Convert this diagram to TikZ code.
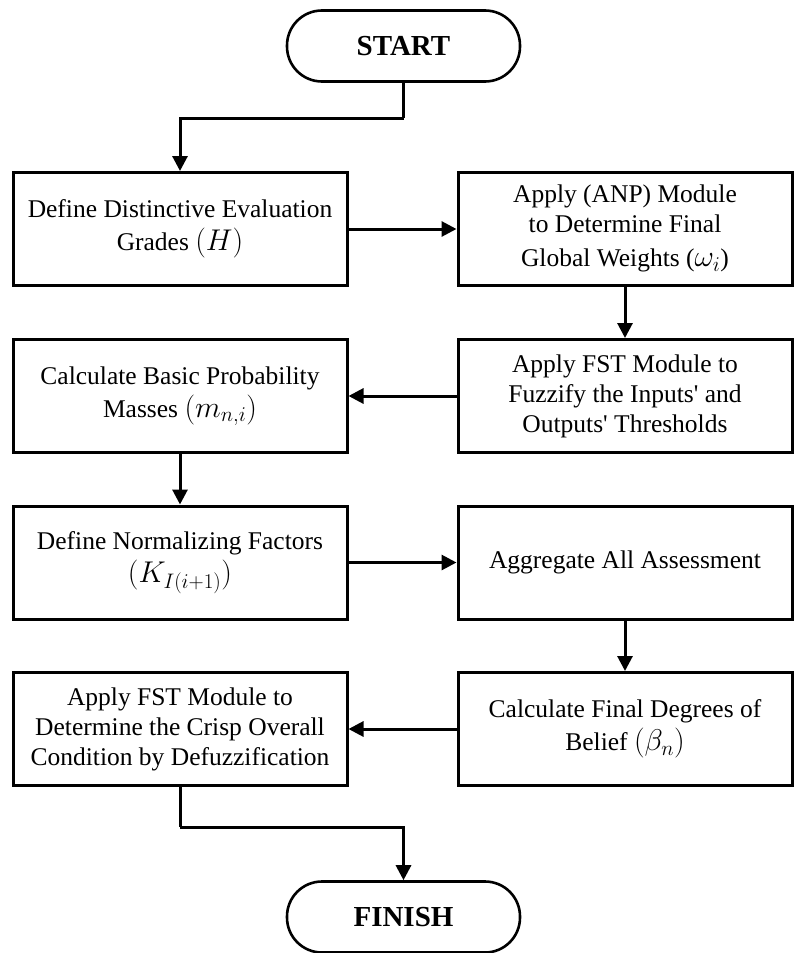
\RequirePackage{fix-cm}
\documentclass[tikz,border=0pt]{standalone}
\usepackage{fontspec}
\setmainfont{Liberation Serif}
\usetikzlibrary{arrows.meta}
% formulas set larger than the surrounding text
\newcommand{\mthx}[1]{{\fontsize{30}{30}\selectfont$#1$}}
\newcommand{\apos}{\textquotesingle}

\begin{document}
\begin{tikzpicture}[x=1pt,y=-1pt,
  proc/.style={draw, line width=3pt, rectangle, minimum width=334pt,
    minimum height=113pt, align=center, inner sep=2pt,
    font=\fontsize{25.5}{30}\selectfont},
  term/.style={draw, line width=2.6pt, rectangle, rounded corners=35pt,
    minimum width=233pt, minimum height=71pt,
    font=\fontsize{29}{32}\selectfont\bfseries},
  arr/.style={line width=3pt, -{Triangle[length=15pt,width=15pt]}},
  link/.style={line width=3pt}
]
\useasboundingbox (0,0) rectangle (795,953);

% terminals
\node[term] (start) at (403.5,46) {START};
\node[term] (finish) at (403.5,917) {FINISH};

% process boxes, left column
\node[proc] (grades) at (180,229) {Define Distinctive Evaluation\\[3pt] Grades \mthx{(H)}};
\node[proc] (mass) at (180,396) {Calculate Basic Probability\\[3pt] Masses \mthx{(m_{n,i})}};
\node[proc] (norm) at (180,562.5) {Define Normalizing Factors\\[3pt] \mthx{(K_{I(i+1)})}};
\node[proc] (defuzz) at (180,729) {Apply FST Module to\\ Determine the Crisp Overall\\ Condition by Defuzzification};

% process boxes, right column
\node[proc] (anp) at (625,228.5) {Apply (ANP) Module\\ to Determine Final\\[4pt] Global Weights (\mthx{\omega_i})};
\node[proc] (fuzz) at (625,396) {Apply FST Module to\\ Fuzzify the Inputs\apos{} and\\ Outputs\apos{} Thresholds};
\node[proc] (aggr) at (625,562.5) {Aggregate All Assessment};
\node[proc] (belief) at (625,729) {Calculate Final Degrees of\\[3pt] Belief \mthx{(\beta_n)}};

% elbow points
\coordinate (j1) at (403.5,118);
\coordinate (j2) at (180,827);

% connectors
\draw[link] (start.south) -- (j1);
\draw[arr] (j1) -| (grades.north);
\draw[arr] (grades.east) -- (grades.east -| anp.west);
\draw[arr] (anp.south) -- (fuzz.north);
\draw[arr] (fuzz.west) -- (fuzz.west -| mass.east);
\draw[arr] (mass.south) -- (norm.north);
\draw[arr] (norm.east) -- (norm.east -| aggr.west);
\draw[arr] (aggr.south) -- (belief.north);
\draw[arr] (belief.west) -- (belief.west -| defuzz.east);
\draw[link] (defuzz.south) -- (j2);
\draw[arr] (j2) -| (finish.north);
\end{tikzpicture}
\end{document}
